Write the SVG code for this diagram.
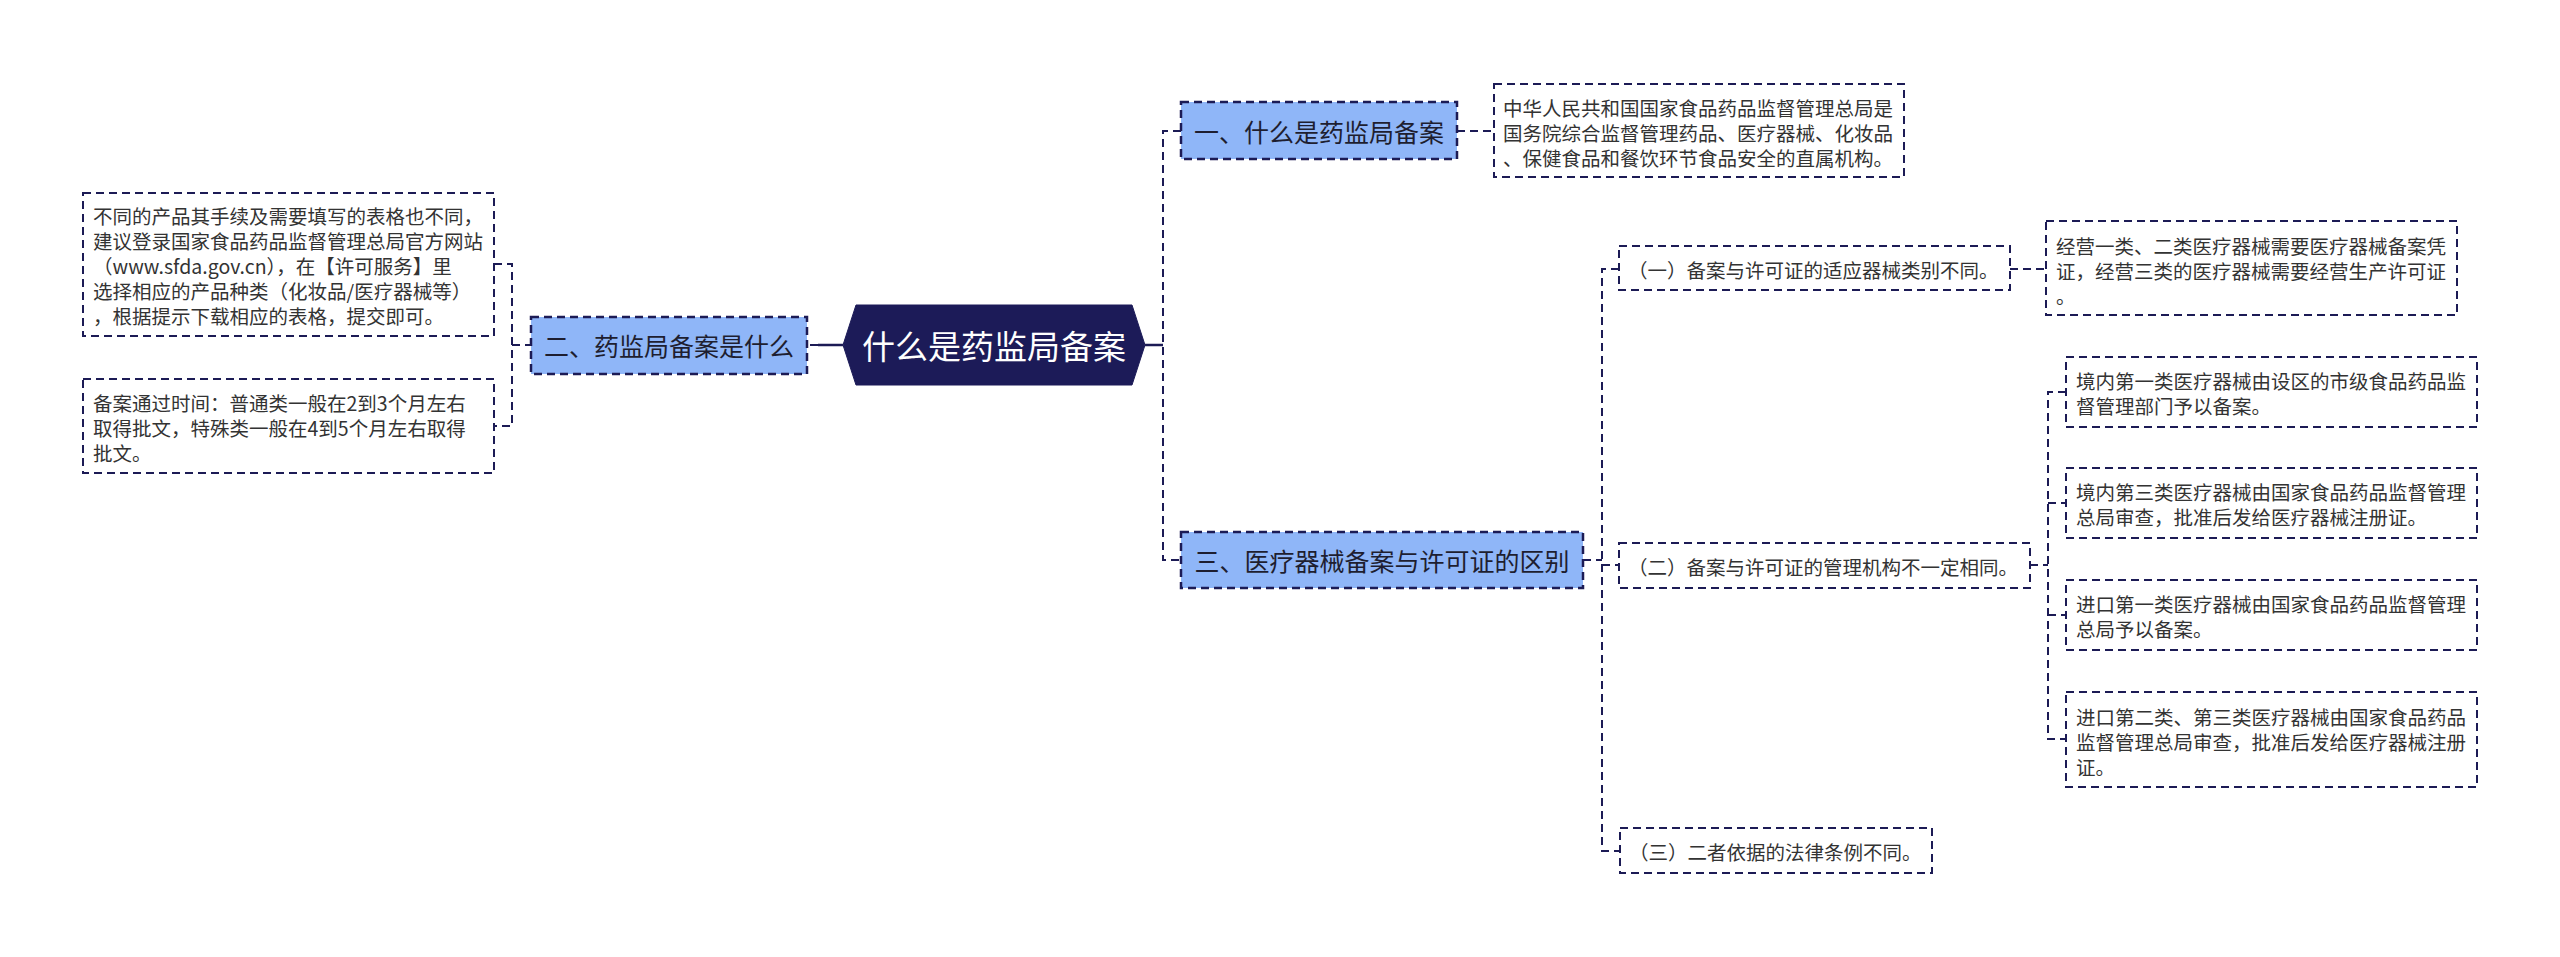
<svg xmlns="http://www.w3.org/2000/svg" width="2560" height="957" viewBox="0 0 2560 957">
<style>
  .bg { fill: #ffffff; }
  .conn { fill: none; stroke: #1c1b55; stroke-width: 2; stroke-dasharray: 8 5; }
  .solid { fill: none; stroke: #1c1b55; stroke-width: 2.5; }
  .root { fill: #1c1b58; stroke: #1c1b58; stroke-width: 1; }
  .l1 { fill: #8fb6f8; stroke: #1c1b55; stroke-width: 2.5; stroke-dasharray: 8 5; }
  .box { fill: #ffffff; stroke: #1c1b55; stroke-width: 2; stroke-dasharray: 8 5; }
  text { font-family: "Noto Sans CJK SC", "Microsoft YaHei", sans-serif; dominant-baseline: central; }
  .tr { fill: #ffffff; font-size: 33px; text-anchor: middle; }
  .t1 { fill: #1e1e30; font-size: 25px; text-anchor: middle; }
  .t { fill: #333333; font-size: 19.5px; }
</style>
<rect class="bg" x="0" y="0" width="2560" height="957"/>

<g id="connectors">
  <path class="conn" d="M494 264 H512 V426 H494"/>
  <path class="conn" d="M512 345 H531"/>
  <path class="solid" d="M843 345 H818"/>
  <path class="conn" d="M818 345 H807"/>
  <path class="solid" d="M1145 345 H1163"/>
  <path class="conn" d="M1181 131 H1163 V560 H1181"/>
  <path class="conn" d="M1457 131 H1494"/>
  <path class="conn" d="M1583 560 H1602"/>
  <path class="conn" d="M1619 269 H1602 V851 H1620"/>
  <path class="conn" d="M1602 565 H1619"/>
  <path class="conn" d="M2010 269 H2046"/>
  <path class="conn" d="M2030 565 H2048"/>
  <path class="conn" d="M2066 392 H2048 V739 H2066"/>
  <path class="conn" d="M2048 503 H2066"/>
  <path class="conn" d="M2048 615 H2066"/>
</g>

<g id="root">
  <polygon class="root" points="843,345 856,305 1132,305 1145,345 1132,385 856,385"/>
  <text class="tr" x="994" y="345">什么是药监局备案</text>
</g>

<g id="n2">
  <rect class="l1" x="531" y="317" width="276" height="57"/>
  <text class="t1" x="669" y="345">二、药监局备案是什么</text>
</g>

<g id="n2a">
  <rect class="box" x="83" y="193" width="411" height="143"/>
  <text class="t" x="93" y="215">不同的产品其手续及需要填写的表格也不同，</text>
  <text class="t" x="93" y="240">建议登录国家食品药品监督管理总局官方网站</text>
  <text class="t" x="93" y="265">（www.sfda.gov.cn），在【许可服务】里</text>
  <text class="t" x="93" y="290">选择相应的产品种类（化妆品/医疗器械等）</text>
  <text class="t" x="93" y="315">，根据提示下载相应的表格，提交即可。</text>
</g>

<g id="n2b">
  <rect class="box" x="83" y="379" width="411" height="94"/>
  <text class="t" x="93" y="402">备案通过时间：普通类一般在2到3个月左右</text>
  <text class="t" x="93" y="427">取得批文，特殊类一般在4到5个月左右取得</text>
  <text class="t" x="93" y="452">批文。</text>
</g>

<g id="n1">
  <rect class="l1" x="1181" y="102" width="276" height="57"/>
  <text class="t1" x="1319" y="131">一、什么是药监局备案</text>
</g>

<g id="n1a">
  <rect class="box" x="1494" y="84" width="410" height="93"/>
  <text class="t" x="1503" y="107">中华人民共和国国家食品药品监督管理总局是</text>
  <text class="t" x="1503" y="132">国务院综合监督管理药品、医疗器械、化妆品</text>
  <text class="t" x="1503" y="157">、保健食品和餐饮环节食品安全的直属机构。</text>
</g>

<g id="n3">
  <rect class="l1" x="1181" y="532" width="402" height="56"/>
  <text class="t1" x="1382" y="560">三、医疗器械备案与许可证的区别</text>
</g>

<g id="n3a">
  <rect class="box" x="1619" y="246" width="391" height="44"/>
  <text class="t" x="1628" y="269">（一）备案与许可证的适应器械类别不同。</text>
</g>

<g id="n3a1">
  <rect class="box" x="2046" y="221" width="411" height="94"/>
  <text class="t" x="2056" y="245">经营一类、二类医疗器械需要医疗器械备案凭</text>
  <text class="t" x="2056" y="270">证，经营三类的医疗器械需要经营生产许可证</text>
  <text class="t" x="2056" y="295">。</text>
</g>

<g id="n3b">
  <rect class="box" x="1619" y="543" width="411" height="45"/>
  <text class="t" x="1628" y="566">（二）备案与许可证的管理机构不一定相同。</text>
</g>

<g id="n3b1">
  <rect class="box" x="2066" y="357" width="411" height="70"/>
  <text class="t" x="2076" y="380">境内第一类医疗器械由设区的市级食品药品监</text>
  <text class="t" x="2076" y="405">督管理部门予以备案。</text>
</g>

<g id="n3b2">
  <rect class="box" x="2066" y="468" width="411" height="70"/>
  <text class="t" x="2076" y="491">境内第三类医疗器械由国家食品药品监督管理</text>
  <text class="t" x="2076" y="516">总局审查，批准后发给医疗器械注册证。</text>
</g>

<g id="n3b3">
  <rect class="box" x="2066" y="580" width="411" height="70"/>
  <text class="t" x="2076" y="603">进口第一类医疗器械由国家食品药品监督管理</text>
  <text class="t" x="2076" y="628">总局予以备案。</text>
</g>

<g id="n3b4">
  <rect class="box" x="2066" y="692" width="411" height="95"/>
  <text class="t" x="2076" y="716">进口第二类、第三类医疗器械由国家食品药品</text>
  <text class="t" x="2076" y="741">监督管理总局审查，批准后发给医疗器械注册</text>
  <text class="t" x="2076" y="766">证。</text>
</g>

<g id="n3c">
  <rect class="box" x="1620" y="828" width="312" height="45"/>
  <text class="t" x="1629" y="851">（三）二者依据的法律条例不同。</text>
</g>
</svg>
